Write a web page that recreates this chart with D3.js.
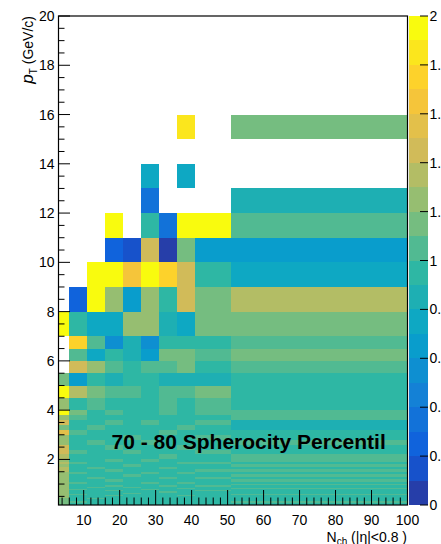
<!DOCTYPE html>
<html>
<head>
<meta charset="utf-8">
<script src="https://cdn.jsdelivr.net/npm/d3@7"></script>
<style>
  html, body { margin: 0; padding: 0; background: #fff; }
  svg { display: block; font-family: "Liberation Sans", Arial, Helvetica, sans-serif; }
</style>
</head>
<body>
<div id="chart"></div>
<script>
// Bin edges of the 2D histogram
const nchEdges = [3, 6, 11, 16, 21, 26, 31, 36, 41, 51, 100];
const ptEdges = [0.15, 0.2, 0.25, 0.3, 0.35, 0.4, 0.45, 0.5, 0.55, 0.6, 0.65, 0.7, 0.75, 0.8,
    0.85, 0.9, 0.95, 1.0, 1.1, 1.2, 1.3, 1.4, 1.5, 1.6, 1.7, 1.8, 1.9, 2.0, 2.2, 2.4, 2.6,
    2.8, 3.0, 3.2, 3.4, 3.6, 3.8, 4.0, 4.5, 5.0, 5.5, 6.0, 6.5, 7, 8, 9, 10, 11, 12, 13,
    14, 15, 16];

// Bin contents, one row per pT bin (bottom to top), one entry per Nch bin; null = empty
const ratio = [
    [1.15, 0.95, 0.95, 0.95, 0.95, 0.95, 0.95, 0.95, 0.95, 0.95],
    [1.15, 0.95, 0.95, 0.95, 0.95, 0.95, 0.95, 0.95, 0.95, 0.95],
    [1.15, 1.05, 0.95, 0.95, 0.95, 0.95, 0.95, 0.95, 0.95, 1.05],
    [1.15, 0.95, 0.95, 0.95, 0.95, 0.95, 0.95, 0.95, 0.95, 0.95],
    [1.15, 0.95, 0.95, 0.95, 0.95, 0.95, 0.95, 0.95, 0.95, 0.95],
    [1.15, 0.95, 1.05, 0.95, 0.95, 0.95, 0.95, 0.95, 0.95, 0.95],
    [1.25, 0.95, 0.95, 0.95, 0.95, 0.95, 0.95, 0.95, 0.95, 0.95],
    [1.25, 0.95, 0.95, 1.05, 0.95, 0.95, 0.95, 1.05, 0.95, 0.95],
    [1.25, 1.05, 0.95, 0.95, 0.95, 0.95, 0.95, 0.95, 0.95, 1.05],
    [1.25, 0.95, 0.95, 0.95, 1.05, 0.95, 0.95, 0.95, 0.95, 0.95],
    [1.25, 0.95, 0.95, 0.95, 0.95, 0.95, 1.05, 0.95, 0.95, 0.95],
    [1.25, 0.95, 0.95, 1.05, 0.95, 0.95, 0.95, 0.95, 1.05, 0.95],
    [1.25, 1.05, 0.95, 0.95, 0.95, 1.05, 0.95, 0.95, 0.95, 0.95],
    [1.25, 0.95, 0.95, 0.95, 0.95, 0.95, 0.95, 1.05, 0.95, 1.05],
    [1.25, 0.95, 1.05, 0.95, 1.05, 0.95, 0.95, 0.95, 0.95, 0.95],
    [1.25, 0.95, 0.95, 1.05, 0.95, 0.95, 1.05, 0.95, 1.05, 0.95],
    [1.25, 0.95, 0.95, 0.95, 0.95, 0.95, 0.95, 0.95, 0.95, 1.05],
    [1.25, 1.05, 0.95, 0.95, 0.95, 1.05, 0.95, 1.05, 0.95, 0.95],
    [1.25, 0.95, 0.95, 1.05, 0.95, 0.95, 0.95, 0.95, 0.95, 1.05],
    [1.25, 0.95, 1.05, 0.95, 0.95, 0.95, 1.05, 0.95, 1.05, 0.95],
    [1.25, 0.95, 0.95, 0.95, 1.05, 0.95, 0.95, 0.95, 0.95, 1.05],
    [1.25, 1.05, 0.95, 0.95, 0.95, 1.05, 0.95, 1.05, 0.95, 0.95],
    [1.35, 0.95, 0.95, 1.05, 0.95, 0.95, 0.95, 0.95, 1.05, 1.05],
    [1.35, 0.95, 1.05, 0.95, 0.95, 0.95, 1.05, 0.95, 0.95, 0.95],
    [1.25, 0.95, 0.95, 0.95, 1.05, 0.95, 0.95, 0.95, 0.95, 1.05],
    [1.35, 1.05, 0.95, 0.95, 0.95, 0.95, 0.95, 1.05, 1.05, 0.95],
    [1.25, 0.95, 0.95, 1.05, 0.95, 1.05, 0.95, 0.95, 0.95, 1.05],
    [1.35, 0.95, 0.95, 0.95, 0.95, 0.95, 1.05, 0.95, 0.95, 1.05],
    [1.45, 1.05, 0.95, 0.95, 1.05, 0.95, 0.95, 0.95, 1.05, 0.95],
    [1.45, 0.95, 0.95, 1.05, 0.95, 0.95, 0.95, 1.05, 0.95, 0.95],
    [1.25, 0.95, 1.05, 0.95, 0.95, 1.05, 0.95, 0.95, 0.95, 1.05],
    [1.25, 0.95, 0.95, 0.95, 1.05, 0.95, 0.95, 0.95, 1.05, 0.95],
    [1.55, 1.05, 0.95, 0.95, 0.95, 0.95, 1.05, 0.95, 0.95, 0.95],
    [1.15, 0.95, 1.05, 0.95, 0.95, 0.95, 0.95, 1.05, 0.95, 0.85],
    [1.45, 0.95, 0.95, 1.05, 0.95, 1.05, 0.95, 0.95, 1.05, 0.85],
    [1.25, 1.05, 0.95, 0.95, 0.95, 0.95, 0.95, 0.95, 0.95, 1.05],
    [1.95, 1.15, 0.95, 1.05, 0.95, 0.95, 1.05, 0.95, 1.05, 1.05],
    [1.25, 0.95, 1.05, 0.95, 0.95, 0.95, 1.05, 0.95, 1.05, 0.95],
    [1.95, 1.35, 1.15, 1.05, 1.05, 0.95, 1.05, 1.05, 1.15, 0.95],
    [1.15, 0.65, 0.95, 0.85, 0.95, 0.95, 0.85, 0.85, 0.85, 0.95],
    [null, 1.45, 1.25, 1.05, 0.95, 1.05, 1.05, 1.15, 0.95, 1.05],
    [null, 1.05, 0.75, 0.95, 0.85, 0.65, 1.15, 1.15, 1.05, 1.15],
    [null, 1.75, 1.05, 0.55, 0.85, 0.55, 0.95, 0.95, 0.95, 1.05],
    [1.95, 0.95, 0.75, 0.75, 1.25, 1.25, 0.85, 0.75, 1.15, 1.15],
    [null, 0.25, 1.95, 1.25, 0.65, 1.25, 0.95, 1.45, 1.15, 1.35],
    [null, null, 1.95, 1.95, 1.65, 1.95, 1.75, 1.45, 0.95, 0.75],
    [null, null, null, 0.25, 0.15, 1.45, 0.05, 1.15, 0.65, 0.65],
    [null, null, null, 1.95, null, 0.95, 0.35, 1.95, 1.95, 1.05],
    [null, null, null, null, null, 0.35, null, null, null, 0.85],
    [null, null, null, null, null, 0.75, null, 0.75, null, null],
    [null, null, null, null, null, null, null, null, null, null],
    [null, null, null, null, null, null, null, 1.85, null, 1.15]
];

const xTicks = [10, 20, 30, 40, 50, 60, 70, 80, 90, 100];
const yTicks = [2, 4, 6, 8, 10, 12, 14, 16, 18, 20];
const zTicks = [0, 0.2, 0.4, 0.6, 0.8, 1, 1.2, 1.4, 1.6, 1.8, 2];
const label = "70 - 80 Spherocity Percentil";

const width = 441;
const height = 544;
const frame = {left: 58.5, right: 407.5, top: 16, bottom: 505};
const pal = {left: 409, right: 428};
const nContours = 20;
const zMin = 0;
const zMax = 2;

// ROOT kBird palette stops
const birdStops = [0, 0.125, 0.25, 0.375, 0.5, 0.625, 0.75, 0.875, 1];
const birdColors = [
    [0.2082, 0.1664, 0.5293], [0.0592, 0.3599, 0.8684], [0.0780, 0.5041, 0.8385],
    [0.0232, 0.6419, 0.7914], [0.1802, 0.7178, 0.6425], [0.5301, 0.7492, 0.4662],
    [0.8186, 0.7328, 0.3499], [0.9956, 0.7862, 0.1968], [0.9764, 0.9832, 0.0539]
].map(c => d3.rgb(c[0] * 255, c[1] * 255, c[2] * 255).toString());

const bird = d3.scaleLinear()
    .domain(birdStops)
    .range(birdColors)
    .interpolate(d3.interpolateRgb);

// Colour of contour band i, as ROOT picks it
function bandColor(i) {
    return bird(Math.min(1, (i + 0.99) / nContours));
}

function zColor(v) {
    let band = Math.floor((v - zMin) / (zMax - zMin) * nContours);
    band = Math.max(0, Math.min(nContours - 1, band));
    return bandColor(band);
}

const x = d3.scaleLinear().domain([3, 100]).range([frame.left, frame.right]);
const y = d3.scaleLinear().domain([0.15, 20]).range([frame.bottom, frame.top]);
const z = d3.scaleLinear().domain([zMin, zMax]).range([frame.bottom, frame.top]);

const svg = d3.select("#chart")
    .append("svg")
    .attr("width", width)
    .attr("height", height);

// Histogram cells
const cells = [];
ratio.forEach((row, j) => {
    row.forEach((v, i) => {
        if (v !== null) cells.push({i: i, j: j, v: v});
    });
});

svg.append("g")
    .attr("shape-rendering", "crispEdges")
    .selectAll("rect")
    .data(cells)
    .enter().append("rect")
    .attr("x", d => x(nchEdges[d.i]))
    .attr("width", d => x(nchEdges[d.i + 1]) - x(nchEdges[d.i]))
    .attr("y", d => y(ptEdges[d.j + 1]))
    .attr("height", d => y(ptEdges[d.j]) - y(ptEdges[d.j + 1]))
    .attr("fill", d => zColor(d.v));

// Label inside the plot
svg.append("text")
    .attr("x", 111.5)
    .attr("y", 449)
    .attr("font-size", 21)
    .attr("font-weight", "bold")
    .attr("fill", "#000")
    .text(label);

// Axes ticks (ROOT style: inward)
const axes = svg.append("g").attr("stroke", "#000").attr("stroke-width", 1);

// x axis: major every 10, minor every 2
d3.range(4, 100.01, 2).forEach(v => {
    const major = v % 10 === 0;
    axes.append("line")
        .attr("x1", x(v)).attr("x2", x(v))
        .attr("y1", frame.bottom).attr("y2", frame.bottom - (major ? 15 : 7.5));
});
// y axis: major every 2, minor every 0.5
d3.range(0.5, 20.01, 0.5).forEach(v => {
    const major = Math.abs(v % 2) < 1e-6;
    axes.append("line")
        .attr("x1", frame.left).attr("x2", frame.left + (major ? 11.5 : 6))
        .attr("y1", y(v)).attr("y2", y(v));
});

// Frame
svg.append("rect")
    .attr("x", frame.left)
    .attr("y", frame.top)
    .attr("width", frame.right - frame.left)
    .attr("height", frame.bottom - frame.top)
    .attr("fill", "none")
    .attr("stroke", "#000")
    .attr("stroke-width", 1.2);

// Tick labels
svg.append("g")
    .selectAll("text")
    .data(xTicks)
    .enter().append("text")
    .attr("x", d => x(d))
    .attr("y", 524.5)
    .attr("text-anchor", "middle")
    .attr("font-size", 14)
    .text(d => d);

svg.append("g")
    .selectAll("text")
    .data(yTicks)
    .enter().append("text")
    .attr("x", 54.5)
    .attr("y", d => y(d) + 5)
    .attr("text-anchor", "end")
    .attr("font-size", 14)
    .text(d => d);

// Axis titles
const xTitle = svg.append("text")
    .attr("x", 407)
    .attr("y", 542)
    .attr("text-anchor", "end")
    .attr("font-size", 14);
xTitle.append("tspan").text("N");
xTitle.append("tspan").attr("font-size", 10).attr("dy", 3).text("ch");
xTitle.append("tspan").attr("dy", -3).text(" (|\u03b7|<0.8 )");

const yTitle = svg.append("text")
    .attr("transform", `translate(33,${frame.top}) rotate(-90)`)
    .attr("text-anchor", "end")
    .attr("font-size", 14);
yTitle.append("tspan").attr("font-style", "italic").attr("font-size", 17).text("p");
yTitle.append("tspan").attr("font-size", 10).attr("dy", 4).text("T");
yTitle.append("tspan").attr("dy", -4).text(" (GeV/c)");

// Colour palette
const bands = d3.range(nContours);
const step = (zMax - zMin) / nContours;
svg.append("g")
    .attr("shape-rendering", "crispEdges")
    .selectAll("rect")
    .data(bands)
    .enter().append("rect")
    .attr("x", pal.left)
    .attr("width", pal.right - pal.left)
    .attr("y", d => z(zMin + (d + 1) * step))
    .attr("height", d => z(zMin + d * step) - z(zMin + (d + 1) * step))
    .attr("fill", d => bandColor(d));

const palAxis = svg.append("g");
zTicks.forEach(v => {
    palAxis.append("line")
        .attr("x1", pal.right - 8).attr("x2", pal.right)
        .attr("y1", z(v)).attr("y2", z(v))
        .attr("stroke", "#000");
    palAxis.append("text")
        .attr("x", pal.right + 1.5)
        .attr("y", z(v) + 5)
        .attr("font-size", 14)
        .text(d3.format("~g")(v));
});
</script>
</body>
</html>
